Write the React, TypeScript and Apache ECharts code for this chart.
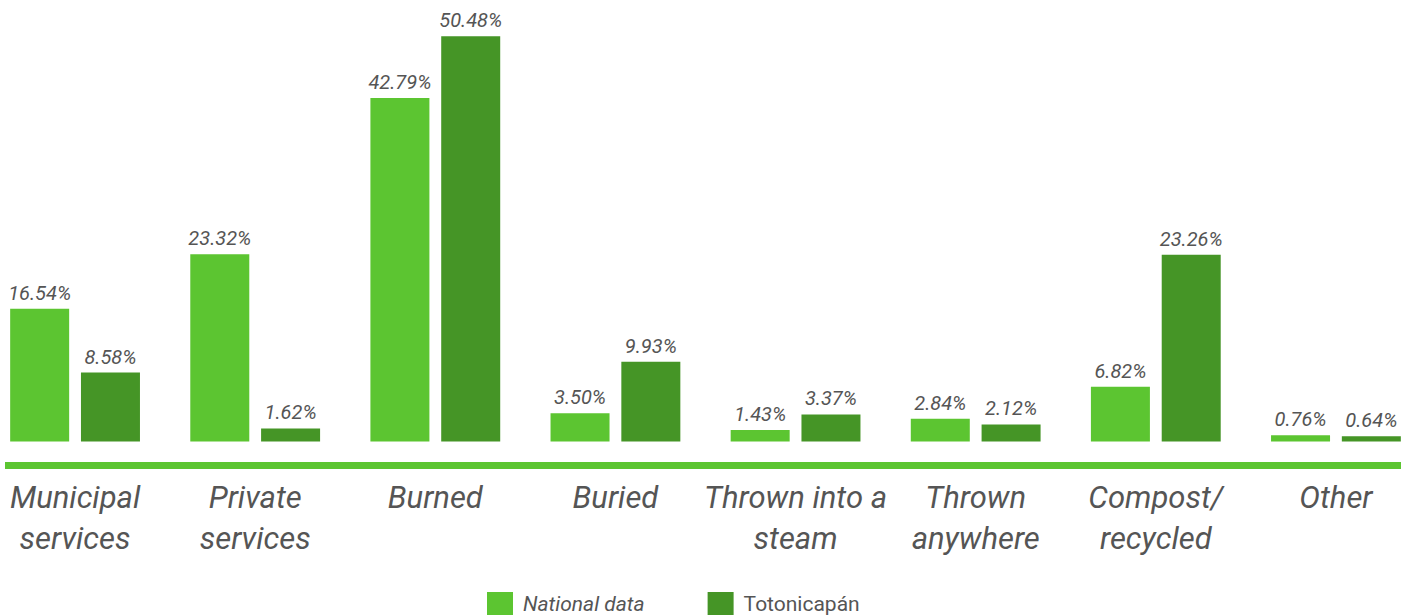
import React, { useEffect, useRef } from "react";
import * as echarts from "echarts";

const categories = [
  "Municipal\nservices",
  "Private\nservices",
  "Burned",
  "Buried",
  "Thrown into a\nsteam",
  "Thrown\nanywhere",
  "Compost/\nrecycled",
  "Other",
];
const nationalData = [16.54, 23.32, 42.79, 3.5, 1.43, 2.84, 6.82, 0.76];
const totonicapanData = [8.58, 1.62, 50.48, 9.93, 3.37, 2.12, 23.26, 0.64];
const seriesNames = ["National data", "Totonicapán"];

const LIGHT = "#5cc531";
const DARK = "#459526";
const TEXT = "#555555";
const FONT = "Roboto, 'Noto Sans', sans-serif";
const SHIFT = 15;

export default function App() {
  const ref = useRef<HTMLDivElement>(null);
  useEffect(() => {
    if (!ref.current) return;
    const chart = echarts.init(ref.current, undefined, { renderer: "svg" });
    const label = {
      show: true,
      position: "top" as const,
      distance: 6,
      color: TEXT,
      fontSize: 20,
      fontStyle: "italic" as const,
      fontFamily: FONT,
      formatter: (p: any) => Number(p.value).toFixed(2) + "%",
    };
    chart.setOption({
      animation: false,
      textStyle: { fontFamily: FONT },
      grid: { left: 0, right: 0, top: 0, bottom: 149.5, containLabel: false },
      legend: {
        left: 487 + SHIFT,
        top: 592,
        padding: 0,
        itemWidth: 26,
        itemHeight: 23,
        itemGap: 63,
        icon: "rect",
        textStyle: { color: TEXT, fontSize: 21, fontFamily: FONT, padding: [0, 0, 0, 5] },
        data: [
          { name: seriesNames[0], textStyle: { fontStyle: "italic" } },
          { name: seriesNames[1] },
        ],
      },
      xAxis: {
        type: "category",
        data: categories,
        axisLine: { show: false, onZero: false },
        axisTick: { show: false },
        axisLabel: {
          color: TEXT,
          fontSize: 31,
          lineHeight: 41,
          fontStyle: "italic",
          fontFamily: FONT,
          margin: 11,
          interval: 0,
        },
      },
      yAxis: {
        type: "value",
        min: -3,
        max: 55,
        show: false,
        splitLine: { show: false },
      },
      graphic: [
        {
          type: "rect",
          shape: { x: 5 + SHIFT, y: 462, width: 1396, height: 7 },
          style: { fill: LIGHT },
          silent: true,
        },
      ],
      series: [
        {
          name: seriesNames[0],
          type: "bar",
          data: nationalData,
          barWidth: 59,
          barGap: "20%",
          itemStyle: { color: LIGHT },
          label,
        },
        {
          name: seriesNames[1],
          type: "bar",
          data: totonicapanData,
          barWidth: 59,
          barGap: "20%",
          itemStyle: { color: DARK },
          label,
        },
      ],
    });
    return () => chart.dispose();
  }, []);
  return (
    <div style={{ position: "fixed", left: 0, top: 0, width: 1411, height: 615, overflow: "hidden", background: "#fff" }}>
      <div
        ref={ref}
        style={{ position: "absolute", left: -SHIFT, top: 0, width: 1411 + 2 * SHIFT, height: 615 }}
      />
    </div>
  );
}
